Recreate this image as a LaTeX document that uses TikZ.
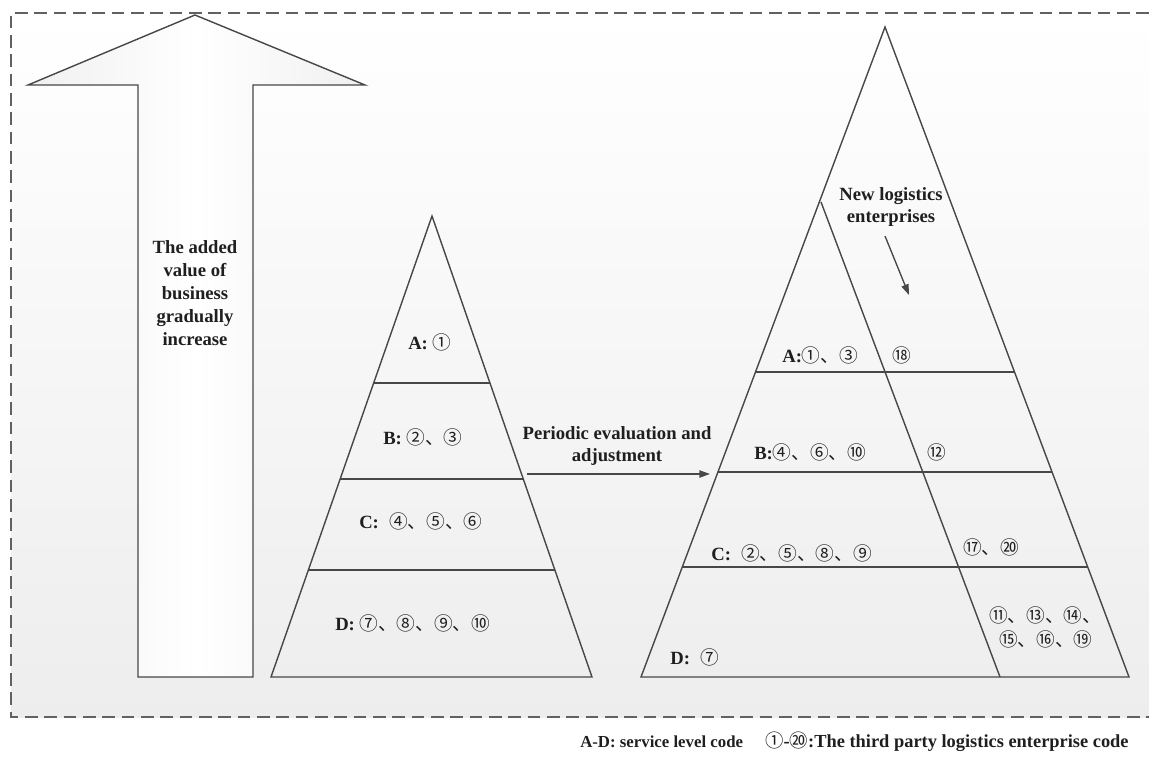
\documentclass[tikz,border=0pt]{standalone}
\usepackage{fontspec}
\setmainfont{Liberation Serif}
\newfontfamily\cjk{Noto Sans CJK SC}
\usetikzlibrary{arrows.meta}
\newcommand\cj[1]{{\cjk\mdseries #1}}
\begin{document}
\begin{tikzpicture}[x=0.75pt,y=-0.75pt,
  ln/.style={draw=black!72, line width=1.05pt, line join=miter},
  frame/.style={draw=black!62, line width=1.1pt, dash pattern=on 9.5pt off 5pt},
  lbl/.style={font=\bfseries\fontsize{14}{17}\selectfont, inner sep=0pt, text=black!88},
  leg/.style={font=\bfseries\fontsize{12.6}{16}\selectfont, inner sep=0pt, text=black!88},
  arr/.style={draw=black!72, line width=1pt, -{Triangle[length=8pt,width=5.5pt]}, fill=black!72},
]
\useasboundingbox (0,0) rectangle (1149,760);
% background panel
\shade[top color=white, bottom color=black!7] (11,13) rectangle (1149,717);
\draw[frame] (1149,13) -- (11,13) -- (11,717) -- (1149,717);

% big arrow
\shade[left color=black!6, right color=black!6, middle color=white]
  (195,15) -- (365,85) -- (253,85) -- (253,677) -- (138,677) -- (138,85) -- (28,85) -- cycle;
\draw[ln] (195,15) -- (365,85) -- (253,85) -- (253,677) -- (138,677) -- (138,85) -- (28,85) -- cycle;
\node[lbl, align=center, font=\bfseries\fontsize{14}{17.3}\selectfont] (addval) at (195,293)
  {The added\\value of\\business\\gradually\\increase};

% left pyramid
\coordinate (L0) at (432,216);
\coordinate (L1) at (271,677);
\coordinate (L2) at (592,677);
\draw[ln] (L0) -- (L2) -- (L1) -- cycle;
\draw[ln] (373.7,383) -- (490.0,383);
\draw[ln] (340.2,479) -- (523.3,479);
\draw[ln] (308.4,570) -- (554.9,570);
\node[lbl, anchor=west] (lA) at (408,342) {A: \cj{①}};
\node[lbl, anchor=west] (lB) at (383,437) {B: \cj{②、③}};
\node[lbl, anchor=west] (lC) at (359,521) {C:\hspace{0.55em}\cj{④、⑤、⑥}};
\node[lbl, anchor=west] (lD) at (335,623) {D: \cj{⑦、⑧、⑨、⑩}};

% evaluation arrow
\node[lbl, align=center] (per) at (617,446) {Periodic evaluation and\\adjustment};
\coordinate (pe1) at (527,474);
\coordinate (pe2) at (710,474);
\draw[arr] (pe1) -- (pe2);

% right pyramid
\coordinate (R0) at (885,27);
\coordinate (R1) at (641,677);
\coordinate (R2) at (1129,677);
\coordinate (I0) at (821,202);
\coordinate (I2) at (1000,677);
\draw[ln] (R0) -- (R2) -- (R1) -- cycle;
\draw[ln] (I0) -- (I2);
\draw[ln] (755.6,372) -- (1014.4,372);
\draw[ln] (718.1,472) -- (1051.9,472);
\draw[ln] (682.5,567) -- (1087.5,567);

\node[lbl, align=center] (newlog) at (891,207) {New logistics\\enterprises};
\coordinate (nl1) at (885,236);
\coordinate (nl2) at (909,295);
\draw[arr] (nl1) -- (nl2);

\node[lbl, anchor=west] (rA) at (782,355) {A:\cj{①、③}};
\node[lbl] (r18) at (902,355) {\cj{⑱}};
\node[lbl, anchor=west] (rB) at (754,452) {B:\cj{④、⑥、⑩}};
\node[lbl] (r12) at (937,452) {\cj{⑫}};
\node[lbl, anchor=west] (rC) at (711,553) {C:\hspace{0.55em}\cj{②、⑤、⑧、⑨}};
\node[lbl, anchor=west] (r17) at (963,547) {\cj{⑰、⑳}};
\node[lbl, anchor=west] (r11) at (989,615) {\cj{⑪、⑬、⑭、}};
\node[lbl, anchor=west] (r15) at (999,639) {\cj{⑮、⑯、⑲}};
\node[lbl, anchor=west] (rD) at (670,657) {D:\hspace{0.55em}\cj{⑦}};

% legend
\node[leg, anchor=west] (leg1) at (580,742) {A-D: service level code};
\node[leg, anchor=west, font=\bfseries\fontsize{13.8}{16}\selectfont] (leg2) at (765,742)
  {\cj{①}-\cj{⑳}:The third party logistics enterprise code};
\end{tikzpicture}
\end{document}
